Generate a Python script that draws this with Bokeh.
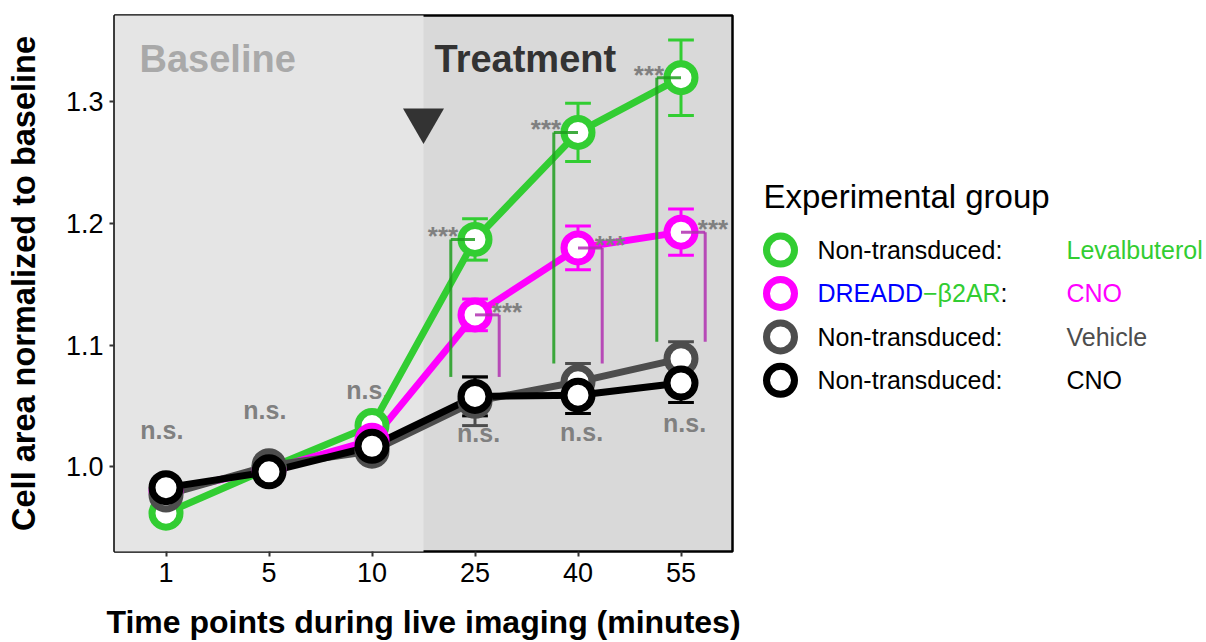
from bokeh.plotting import figure
from bokeh.layouts import row
from bokeh.models import ColumnDataSource, Range1d, FactorRange, FixedTicker, PrintfTickFormatter
from bokeh.transform import dodge
from bokeh.core.properties import value
from bokeh.embed import file_html
from bokeh.resources import INLINE

# ---------------- data ----------------
time_points = ["1", "5", "10", "25", "40", "55"]
baseline_points = ["1", "10"]          # first / last baseline time point
treatment_points = ["25", "40", "55"]

leva_mean = [0.962, 0.999, 1.034, 1.187, 1.275, 1.320]
leva_err = [0.005, 0.005, 0.006, 0.017, 0.024, 0.031]
dreadd_mean = [0.980, 0.998, 1.022, 1.125, 1.180, 1.193]
dreadd_err = [0.005, 0.005, 0.006, 0.013, 0.018, 0.019]
vehicle_mean = [0.977, 1.001, 1.013, 1.054, 1.070, 1.089]
vehicle_err = [0.006, 0.005, 0.006, 0.020, 0.015, 0.014]
cno_mean = [0.983, 0.996, 1.017, 1.058, 1.059, 1.069]
cno_err = [0.005, 0.005, 0.006, 0.016, 0.015, 0.016]

sig_bottom = [1.074, 1.085, 1.103]   # lower end of significance brackets
sig_labels = ["***", "***", "***"]
ns_labels = ["n.s.", "n.s.", "n.s.", "n.s.", "n.s.", "n.s."]
ns_y = [1.030, 1.047, 1.063, 1.028, 1.029, 1.036]
y_ticks = [1.0, 1.1, 1.2, 1.3]

x_title = "Time points during live imaging (minutes)"
y_title = "Cell area normalized to baseline"
legend_title = "Experimental group"
legend_groups = ["Non-transduced:", "DREADD\u2212\u03b22AR:", "Non-transduced:", "Non-transduced:"]
legend_treatments = ["Levalbuterol", "CNO", "Vehicle", "CNO"]

GREEN = "#32CD32"
MAGENTA = "#FF00FF"
GRAY = "#4D4D4D"
BLACK = "#000000"
FONT = "Liberation Sans"

# ---------------- main plot ----------------
MAIN_W = 750
p = figure(width=MAIN_W, height=642,
           x_range=FactorRange(*time_points),
           y_range=Range1d(0.9305, 1.3711),
           output_backend="svg", toolbar_location=None,
           min_border_left=114, min_border_right=MAIN_W - 732,
           min_border_top=15, min_border_bottom=90)
p.background_fill_color = "#D9D9D9"
p.border_fill_color = "white"
p.outline_line_color = "black"
p.outline_line_width = 2.5
p.grid.visible = False

# baseline band
band = ColumnDataSource(dict(start=[baseline_points[0]], end=[baseline_points[1]]))
p.quad(left=dodge("start", -0.5, range=p.x_range), right=dodge("end", 0.5, range=p.x_range),
       bottom=0.9, top=1.4, source=band, fill_color="#E5E5E5", line_color=None)

# axes
for ax in (p.xaxis[0], p.yaxis[0]):
    ax.axis_line_color = None
    ax.major_tick_line_color = "#333333"
    ax.major_tick_line_width = 2
    ax.major_tick_out = 5
    ax.major_tick_in = 0
    ax.minor_tick_line_color = None
    ax.major_label_text_font = FONT
    ax.major_label_text_font_size = "27px"
    ax.major_label_text_color = "black"
    ax.axis_label_text_font = FONT
    ax.axis_label_text_font_style = "bold"
    ax.axis_label_text_color = "black"
    ax.major_label_standoff = 6
p.yaxis.axis_label_text_font_size = "32.5px"
p.xaxis.axis_label_text_font_size = "32px"
p.yaxis.ticker = FixedTicker(ticks=y_ticks)
p.yaxis.formatter = PrintfTickFormatter(format="%.1f")
p.yaxis.axis_label = y_title
p.yaxis.axis_label_standoff = 21
p.xaxis.axis_label = x_title
p.xaxis.axis_label_standoff = 19

# phase labels
p.text(x=dodge("x", -0.257, range=p.x_range), y="y", text="t",
       source=ColumnDataSource(dict(x=["1"], y=[1.335], t=["Baseline"])),
       text_font=value(FONT), text_font_size="38px", text_font_style="bold",
       text_color="#A9A9A9", text_align="left", text_baseline="middle")
p.text(x=dodge("x", -0.393, range=p.x_range), y="y", text="t",
       source=ColumnDataSource(dict(x=["25"], y=[1.335], t=["Treatment"])),
       text_font=value(FONT), text_font_size="38px", text_font_style="bold",
       text_color="#333333", text_align="left", text_baseline="middle")

# treatment onset arrow
p.scatter(x=dodge("x", 0.5, range=p.x_range), y="y",
          source=ColumnDataSource(dict(x=["10"], y=[1.285])),
          marker="inverted_triangle", size=41, fill_color="#333333", line_color=None)

# n.s. labels
for sl, off in ((slice(0, 3), -0.04), (slice(3, 6), 0.035)):
    p.text(x=dodge("x", off, range=p.x_range), y="y", text="t",
           source=ColumnDataSource(dict(x=time_points[sl], y=ns_y[sl], t=ns_labels[sl])),
           text_font=value(FONT), text_font_size="25px", text_font_style="bold",
           text_color="#808080", text_align="center", text_baseline="middle")

series = [
    (leva_mean, leva_err, GREEN),
    (dreadd_mean, dreadd_err, MAGENTA),
    (vehicle_mean, vehicle_err, GRAY),
    (cno_mean, cno_err, BLACK),
]
sources = []
for mean, err, col in series:
    src = ColumnDataSource(dict(x=time_points, y=mean,
                                lo=[m - e for m, e in zip(mean, err)],
                                hi=[m + e for m, e in zip(mean, err)]))
    sources.append((src, col))

for src, col in sources:
    p.line("x", "y", source=src, line_width=7, line_color=col)
for src, col in sources:
    p.segment(x0="x", x1="x", y0="lo", y1="hi", source=src, line_width=3, line_color=col)
    for end in ("lo", "hi"):
        p.segment(x0=dodge("x", -0.125, range=p.x_range), x1=dodge("x", 0.125, range=p.x_range),
                  y0=end, y1=end, source=src, line_width=3, line_color=col)
for src, col in sources:
    p.scatter("x", "y", source=src, marker="circle", size=28, line_width=7,
              line_color=col, fill_color="white")

# significance brackets
for mean, off, col in ((leva_mean, -0.235, "#1E9E1E"), (dreadd_mean, 0.235, "#B030B0")):
    bsrc = ColumnDataSource(dict(x=treatment_points, y=mean[3:], bottom=sig_bottom, t=sig_labels))
    p.segment(x0=dodge("x", off, range=p.x_range), x1="x", y0="y", y1="y",
              source=bsrc, line_width=3, line_color=col, line_alpha=0.85)
    p.segment(x0=dodge("x", off, range=p.x_range), x1=dodge("x", off, range=p.x_range),
              y0="y", y1="bottom", source=bsrc, line_width=3, line_color=col, line_alpha=0.85)
    p.text(x=dodge("x", off * 1.32, range=p.x_range), y="y", text="t", source=bsrc,
           text_font=value(FONT), text_font_size="26px", text_font_style="bold",
           text_color="#808080", text_align="center", text_baseline="middle", y_offset=-3)

# ---------------- legend panel ----------------
LEG_W = 1206 - MAIN_W
leg = figure(width=LEG_W, height=642, x_range=Range1d(740 - MAIN_W + 0 + (MAIN_W - 740), 466) if False else Range1d(MAIN_W - 740, 466),
             y_range=Range1d(552, 15),
             output_backend="svg", toolbar_location=None,
             x_axis_location=None, y_axis_location=None,
             min_border_left=0, min_border_right=0, min_border_top=15, min_border_bottom=90)
leg.grid.visible = False
leg.outline_line_color = None
leg.background_fill_color = "white"
leg.border_fill_color = "white"

row_y = [250, 293.5, 337, 380.5]
leg.scatter(x=[40] * 4, y=row_y, marker="circle", size=28, line_width=7,
            line_color=[GREEN, MAGENTA, GRAY, BLACK], fill_color="white")
leg.text(x=[23], y=[196], text=[legend_title], text_font=value(FONT), text_font_size="33px",
         text_color="black", text_align="left", text_baseline="middle")
leg.text(x=[77, 77, 77], y=[row_y[0], row_y[2], row_y[3]],
         text=[legend_groups[0], legend_groups[2], legend_groups[3]],
         text_font=value(FONT), text_font_size="25px", text_color="black",
         text_align="left", text_baseline="middle")
# multi-coloured group label "DREADD−β2AR:"
g = legend_groups[1]
parts = [g[:6], g[6:-1], g[-1:]]
leg.text(x=[77, 182.5, 260], y=[row_y[1]] * 3, text=parts,
         text_font=value(FONT), text_font_size="25px", text_color=["#0000FF", GREEN, "black"],
         text_align="left", text_baseline="middle")
leg.text(x=[326] * 4, y=row_y, text=legend_treatments,
         text_font=value(FONT), text_font_size="25px",
         text_color=[GREEN, MAGENTA, GRAY, BLACK],
         text_align="left", text_baseline="middle")

layout = row(p, leg)
open("out.html", "w").write(file_html(layout, INLINE))
